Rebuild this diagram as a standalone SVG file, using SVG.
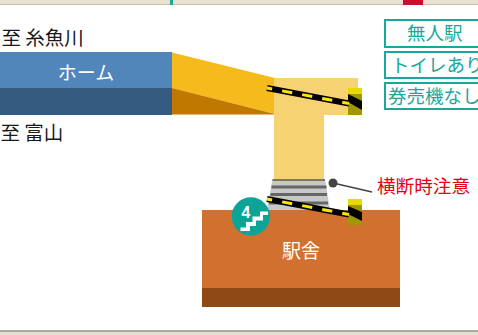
<svg xmlns="http://www.w3.org/2000/svg" width="478" height="335" viewBox="0 0 478 335">
<style>
text{font-family:"Noto Sans CJK JP","Noto Sans",sans-serif}
.blk{font-size:19.500px;fill:#1a1a1a}
.wht{font-size:19px;fill:#fff;text-anchor:middle}
.tag{fill:#fff;stroke:#1aa79c;stroke-width:2}
.tagt{font-size:18.500px;fill:#1aa79c}
.bar{stroke:#000;stroke-width:6;fill:none}
.dash{stroke:#ffe600;stroke-width:3;stroke-dasharray:10.200 10.200;stroke-dashoffset:5;fill:none}
</style>
<rect width="478" height="335" fill="#fff"/>
<g id="frame">
<rect width="478" height="4.500" fill="#e8e2d0"/><rect y="4" width="478" height="1" fill="#c9c2ab"/>
<rect x="170" width="3" height="5" fill="#1aa79c"/><rect x="403" width="20" height="5" fill="#c8102e"/>
<rect y="330" width="478" height="5" fill="#e4dfcf"/><rect y="330" width="478" height="2" fill="#aeab9c"/>
</g>
<g id="platform-ramp">
<polygon points="172,52.500 275,78 275,114 172,88" fill="#f5bb1c"/>
<polygon points="172,88 275,114 172,114" fill="#c07800"/>
<rect x="172" y="114" width="103" height="1" fill="#e4b96a"/>
</g>
<g id="platform">
<rect y="52" width="172" height="36" fill="#5086b9"/>
<rect y="88" width="172" height="27" fill="#355c80"/>
<text class="wht" x="86" y="79.500">ホーム</text>
</g>
<g id="concourse">
<path d="M274,78H358V115H324V180H274Z" fill="#f6d272"/>
</g>
<g id="stairs">
<polygon points="272.500,179 325,179 330,210 267,210" fill="#c8c8c8"/>
<rect x="272.500" y="179" width="52.500" height="2" fill="#777"/>
<rect x="271.500" y="185.500" width="55" height="3" fill="#666"/>
<rect x="270.500" y="193" width="56.500" height="3" fill="#666"/>
<rect x="269" y="201.500" width="59" height="3" fill="#666"/>
</g>
<g id="station">
<rect x="202" y="210" width="198" height="78" fill="#d2712f"/>
<rect x="202" y="288" width="198" height="19" fill="#8f4915"/>
<text class="wht" x="301" y="258">駅舎</text>
</g>
<g id="gate-top">
<rect x="348" y="88" width="14" height="27" fill="#a09800"/><rect x="348" y="88" width="14" height="6" fill="#e8d900"/>
<polygon points="348,94 362,101 362,110 348,102" fill="#000"/>
<line class="bar" x1="267" y1="88" x2="349" y2="103.500"/>
<line class="dash" x1="267" y1="88" x2="349" y2="103.500"/>
</g>
<g id="gate-bottom">
<rect x="348" y="199" width="14" height="26" fill="#a09800"/><rect x="348" y="199" width="14" height="6" fill="#e8d900"/>
<polygon points="348,206 362,212 362,221 348,214" fill="#000"/>
<line class="bar" x1="267" y1="199" x2="349" y2="214.500"/>
<line class="dash" x1="267" y1="199" x2="349" y2="214.500"/>
</g>
<g id="stairs-icon">
<circle cx="250.800" cy="216.500" r="19.200" fill="#0ea397"/>
<text x="246" y="217.500" font-size="15.800" font-weight="700" fill="#fff" text-anchor="middle" style="font-family:'Liberation Sans',sans-serif">4</text>
<polygon points="240.500,227.500 246,227.500 246,222 252.500,222 252.500,216.500 260,216.500 260,211.500 268,211.500 268,215 263,215 263,220.500 256,220.500 256,226 250,226 250,231 240.500,231" fill="#fff"/>
</g>
<g id="connectors">
<line x1="333" y1="183" x2="372" y2="192" stroke="#444" stroke-width="1.500"/>
<circle cx="333" cy="183" r="4.500" fill="#444"/>
</g>
<g id="labels">
<text class="blk" x="1.500" y="45">至 糸魚川</text>
<text class="blk" x="0.500" y="140">至 富山</text>
<text x="377" y="192.500" font-size="18.600" fill="#e60012">横断時注意</text>
</g>
<g id="tag-unmanned"><rect class="tag" x="385" y="20" width="100" height="27"/><text class="tagt" x="407" y="40">無人駅</text></g>
<g id="tag-toilet"><rect class="tag" x="385" y="52" width="100" height="26"/><text class="tagt" x="391" y="71.500">トイレあり</text></g>
<g id="tag-ticket"><rect class="tag" x="385" y="83" width="100" height="26"/><text class="tagt" x="388" y="103">券売機なし</text></g>
</svg>
